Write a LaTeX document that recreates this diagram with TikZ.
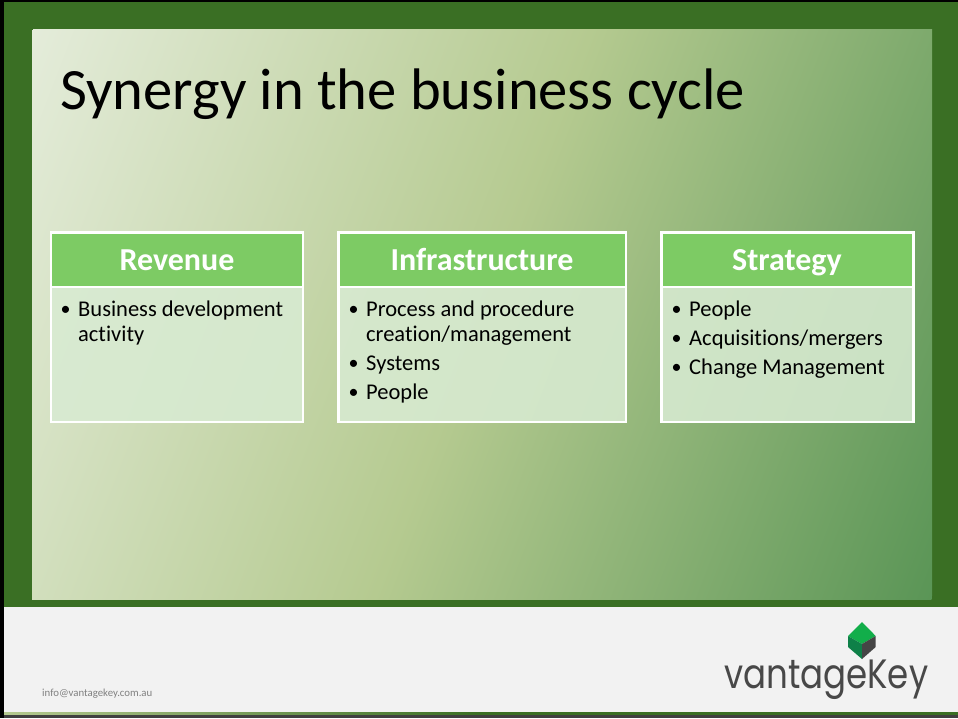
\documentclass[tikz,border=0pt]{standalone}
\usepackage{fontspec}
\setmainfont[Ligatures=NoCommon]{Carlito}
\newfontfamily\logofont{Poppins}
\definecolor{framegreen}{HTML}{3A6F24}
\definecolor{headgreen}{HTML}{7DCB64}
\definecolor{bodytint}{HTML}{D8EBD2}
\definecolor{footgrey}{HTML}{F2F2F2}
\definecolor{logodark}{HTML}{484848}
\definecolor{gA}{HTML}{E4ECDA}\definecolor{gB}{HTML}{B5CA90}\definecolor{gC}{HTML}{5A9556}
\definecolor{cubetop}{HTML}{12AE4A}\definecolor{cubeleft}{HTML}{0E8048}\definecolor{cuberight}{HTML}{454545}
\pgfdeclarehorizontalshading{panelgradb}{100bp}{color(0bp)=(gA);color(50bp)=(gB);color(100bp)=(gC)}
\tikzset{
  x=1pt,y=-1pt,
  headbox/.style={draw=white,line width=2.6pt,fill=headgreen},
  headtext/.style={inner sep=0pt,font=\fontsize{32}{32}\selectfont\bfseries,text=white,anchor=base},
  bodybox/.style={fill=bodytint,fill opacity=.88},
  bodyedge/.style={draw=white,line width=2.6pt},
  bodyline/.style={anchor=base west,inner sep=0pt,font=\fontsize{22.5}{25}\selectfont,text=black},
  bulletdot/.style={anchor=base,inner sep=0pt,font=\fontsize{20}{20}\selectfont,text=black},
}
\begin{document}
\begin{tikzpicture}
\useasboundingbox (0,0) rectangle (958,718);
% frame
\fill[framegreen] (0,0) rectangle (958,718);
\fill[black] (0,0) rectangle (958,1.8);
\fill[black] (0,0) rectangle (4,718);
% gradient panel
\begin{scope}
  \clip (32,29) rectangle (932,599);
  \node[inner sep=0pt,rotate=-21,xscale=10.4,yscale=12,transform shape] (panel) at (482,314) {\pgfuseshading{panelgradb}};
\end{scope}
% footer
\fill[footgrey] (4,607) rectangle (958,712);
\shade[left color=gB,right color=framegreen,middle color=framegreen] (4,712) rectangle (958,715);
\fill[black!75] (4,715) rectangle (958,718);
% title
\node[anchor=base west,inner sep=0pt,font=\fontsize{58.6}{58.6}\selectfont] (title) at (60,109) {Synergy in the business cycle};
% Revenue
\fill[bodybox] (51,287) rectangle (303,422);
\draw[bodyedge] (51,287) rectangle (303,422);
\draw[headbox] (51,232.5) rectangle (303,287);
\node[headtext] (h1) at (177,270) {Revenue};
\node[bulletdot] (b11) at (65.7,315) {•};
\node[bodyline] (t11) at (78,316.5) {Business development};
\node[bodyline] (t12) at (78,341.5) {activity};
% Infrastructure
\fill[bodybox] (338.5,287) rectangle (626,422);
\draw[bodyedge] (338.5,287) rectangle (626,422);
\draw[headbox] (338.5,232.5) rectangle (626,287);
\node[headtext] (h2) at (482,270) {Infrastructure};
\node[bulletdot] (b21) at (353.5,315) {•};
\node[bodyline] (t21) at (366,316.5) {Process and procedure};
\node[bodyline] (t22) at (366,341.5) {creation/management};
\node[bulletdot] (b22) at (353.5,369) {•};
\node[bodyline] (t23) at (366,370.5) {Systems};
\node[bulletdot] (b23) at (353.5,398) {•};
\node[bodyline] (t24) at (366,399.5) {People};
% Strategy
\fill[bodybox] (661.5,287) rectangle (913.5,422);
\draw[bodyedge] (661.5,287) rectangle (913.5,422);
\draw[headbox] (661.5,232.5) rectangle (913.5,287);
\node[headtext] (h3) at (787,270) {Strategy};
\node[bulletdot] (b31) at (676.5,315) {•};
\node[bodyline] (t31) at (689,316.5) {People};
\node[bulletdot] (b32) at (676.5,344) {•};
\node[bodyline] (t32) at (689,345.5) {Acquisitions/mergers};
\node[bulletdot] (b33) at (676.5,373) {•};
\node[bodyline] (t33) at (689,374.5) {Change Management};
% email
\node[anchor=base west,inner sep=0pt,font=\fontsize{10.8}{10.8}\selectfont,text=black!50] (mail) at (42,696) {info@vantagekey.com.au};
% logo cube
\fill[cubetop] (862,622) -- (875.7,636) -- (862,644) -- (848,636) -- cycle;
\fill[cubeleft] (848,636) -- (862,644) -- (862,659) -- (848,647) -- cycle;
\fill[cuberight] (875.7,636) -- (862,644) -- (862,659) -- (875.7,647) -- cycle;
% logo word
\node[anchor=base west,inner sep=0pt,font=\logofont\fontsize{41}{41}\selectfont,text=logodark] (logo) at (724,688) {\scalebox{.83}[1]{vantageKey}};
\end{tikzpicture}
\end{document}
